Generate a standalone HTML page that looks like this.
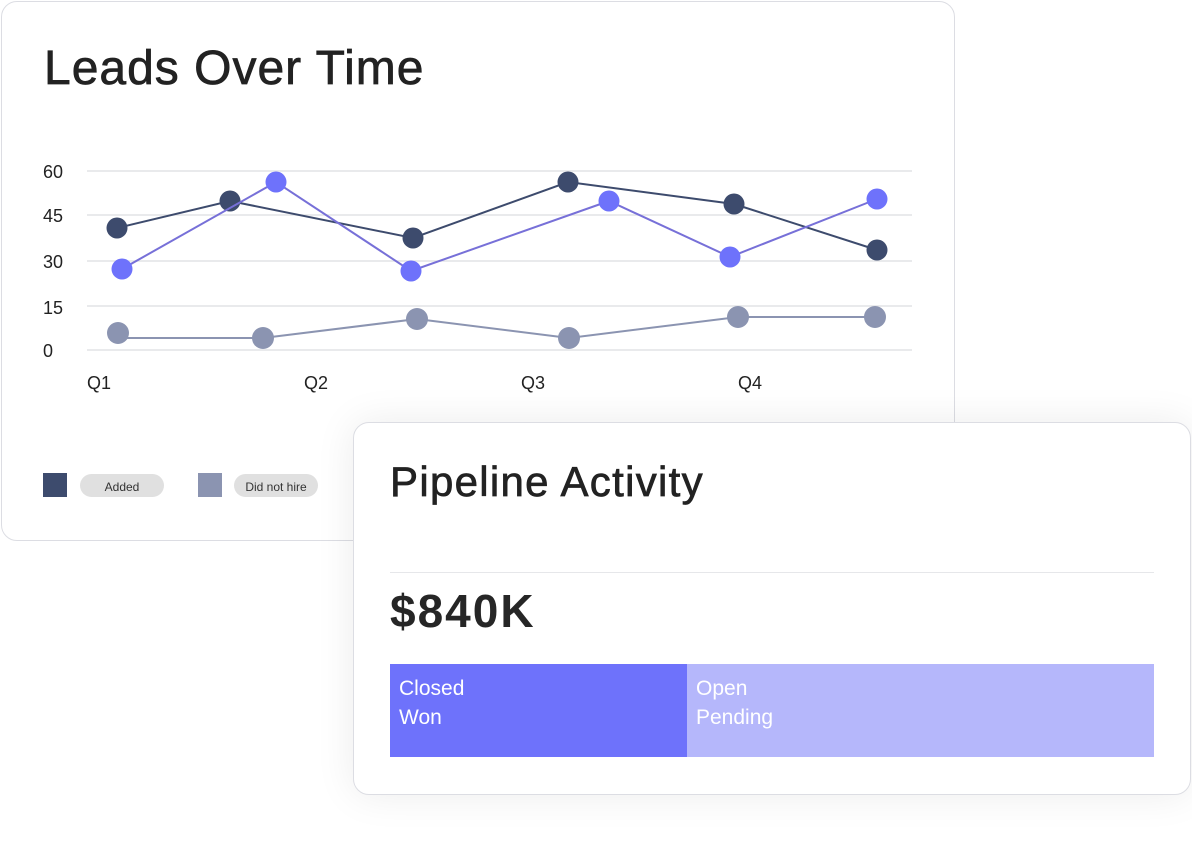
<!DOCTYPE html>
<html><head><style>
body{margin:0;width:1192px;height:844px;background:#fff;font-family:"Liberation Sans",sans-serif;position:relative;overflow:hidden}
.c1{position:absolute;left:1px;top:1px;width:952px;height:538px;border:1.5px solid #dcdde3;border-radius:16px;background:#fff}
.c2{position:absolute;left:353px;top:422px;width:836px;height:371px;border:1.5px solid #dcdde3;border-radius:16px;background:#fff;box-shadow:0 0 40px rgba(0,0,0,0.08)}
.t{position:absolute;color:#222;-webkit-text-stroke:0.7px #222}
</style></head><body>
<div class="c1"></div>
<div class="t" style="left:44px;top:41px;font-size:48px;letter-spacing:1px">Leads Over Time</div>
<svg style="position:absolute;left:0;top:0" width="960" height="540">
<g stroke="#e2e3e6" stroke-width="1.5">
<line x1="87" x2="912" y1="171" y2="171"/><line x1="87" x2="912" y1="215" y2="215"/><line x1="87" x2="912" y1="261" y2="261"/><line x1="87" x2="912" y1="306" y2="306"/><line x1="87" x2="912" y1="350" y2="350"/></g>
<g font-family="Liberation Sans" font-size="18" fill="#222">
<text x="43" y="178">60</text><text x="43" y="222">45</text><text x="43" y="268">30</text><text x="43" y="314">15</text><text x="43" y="357">0</text>
<text x="87" y="389">Q1</text><text x="304" y="389">Q2</text><text x="521" y="389">Q3</text><text x="738" y="389">Q4</text></g>
<polyline fill="none" stroke="#8b94b1" stroke-width="2" points="118,338 263,338 417,319 569,338 738,317 875,317"/>
<g fill="#8b94b1"><circle cx="118" cy="333" r="11"/><circle cx="263" cy="338" r="11"/><circle cx="417" cy="319" r="11"/><circle cx="569" cy="338" r="11"/><circle cx="738" cy="317" r="11"/><circle cx="875" cy="317" r="11"/></g>
<polyline fill="none" stroke="#3d4b6d" stroke-width="2" points="117,228 230,201 413,238 568,182 734,204 877,250"/>
<g fill="#3d4b6d"><circle cx="117" cy="228" r="10.5"/><circle cx="230" cy="201" r="10.5"/><circle cx="413" cy="238" r="10.5"/><circle cx="568" cy="182" r="10.5"/><circle cx="734" cy="204" r="10.5"/><circle cx="877" cy="250" r="10.5"/></g>
<polyline fill="none" stroke="#7770d8" stroke-width="2" points="122,269 276,182 411,271 609,201 730,257 877,199"/>
<g fill="#6e72fb"><circle cx="122" cy="269" r="10.5"/><circle cx="276" cy="182" r="10.5"/><circle cx="411" cy="271" r="10.5"/><circle cx="609" cy="201" r="10.5"/><circle cx="730" cy="257" r="10.5"/><circle cx="877" cy="199" r="10.5"/></g>
<rect x="43" y="473" width="24" height="24" fill="#3d4b6d"/>
<rect x="80" y="474" width="84" height="23" rx="11.5" fill="#e0e0e0"/>
<text x="122" y="491" text-anchor="middle" font-size="12" fill="#333" font-family="Liberation Sans">Added</text>
<rect x="198" y="473" width="24" height="24" fill="#8b94b1"/>
<rect x="234" y="474" width="84" height="23" rx="11.5" fill="#e0e0e0"/>
<text x="276" y="491" text-anchor="middle" font-size="12" fill="#333" font-family="Liberation Sans">Did not hire</text>
</svg>
<div class="c2"></div>
<div class="t" style="left:390px;top:458px;font-size:42px;letter-spacing:1.3px">Pipeline Activity</div>
<div style="position:absolute;left:390px;top:572px;width:764px;height:1px;background:#e6e7ea"></div>
<div class="t" style="left:390px;top:584px;font-size:46px;font-weight:bold;color:#262626;-webkit-text-stroke:0;letter-spacing:2px">$840K</div>
<div style="position:absolute;left:390px;top:664px;width:297px;height:93px;background:#6e72fb"></div>
<div style="position:absolute;left:687px;top:664px;width:467px;height:93px;background:#b5b7fb"></div>
<div style="position:absolute;left:399px;top:674px;font-size:21px;color:#fff;line-height:29px">Closed<br>Won</div>
<div style="position:absolute;left:696px;top:674px;font-size:21px;color:#fff;line-height:29px">Open<br>Pending</div>
</body></html>
